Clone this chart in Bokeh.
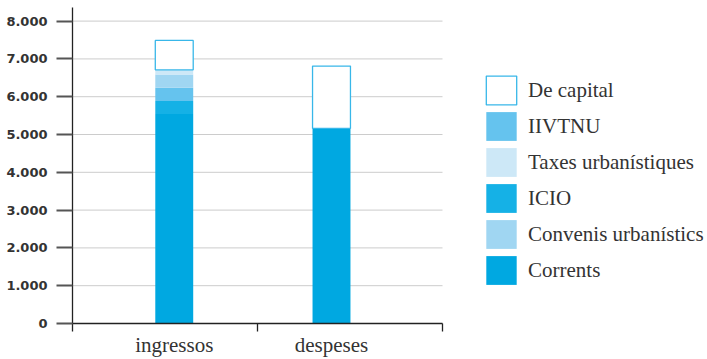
from bokeh.plotting import figure
from bokeh.models import (ColumnDataSource, Range1d, FixedTicker, Legend,
                          LegendItem)
from bokeh.embed import file_html
from bokeh.resources import INLINE

# --- data (thousands of euros) ---
categories = ["ingressos", "despeses"]
corrents = [5540, 5160]
icio = [345, 0]
iivtnu = [350, 0]
convenis = [355, 0]
taxes = [120, 0]
de_capital = [780, 1650]

y_ticks = [0, 1000, 2000, 3000, 4000, 5000, 6000, 7000, 8000]
y_tick_labels = ["0", "1.000", "2.000", "3.000", "4.000",
                 "5.000", "6.000", "7.000", "8.000"]

# series names, stacked from the bottom up
series_keys = ["corrents", "icio", "iivtnu", "convenis", "taxes", "de_capital"]
series_names = ["Corrents", "ICIO", "IIVTNU", "Convenis urbanístics",
                "Taxes urbanístiques", "De capital"]
legend_order = ["De capital", "IIVTNU", "Taxes urbanístiques", "ICIO",
                "Convenis urbanístics", "Corrents"]

# --- styling / layout ---
fill_colors = ["#00A8E1", "#15B1E6", "#65C3EE", "#A0D6F2", "#CDE8F7", "#FFFFFF"]
line_colors = [None, None, None, None, None, "#38B7E9"]
line_widths = [0, 0, 0, 0, 0, 1.3]
slot_shift = [0.05, -0.10]      # bars sit slightly off the slot centres
bar_width = 0.205
serif = "Liberation Serif"
serif_size = "21px"

W, H = 707, 359
LEFT, BOTTOM, TOP = 72, 36, 7
AXIS_PX = 370                    # drawn length of the category axis
n = len(categories)
x_end = n * (W - LEFT) / AXIS_PX  # frame runs on under the legend

centers = [i + 0.5 + s for i, s in enumerate(slot_shift)]
source = ColumnDataSource(dict(
    x=centers,
    corrents=corrents, icio=icio, iivtnu=iivtnu,
    convenis=convenis, taxes=taxes, de_capital=de_capital,
))

p = figure(width=W, height=H, output_backend="svg", toolbar_location=None,
           x_range=Range1d(0, x_end), y_range=Range1d(0, 8360),
           min_border_left=LEFT, min_border_right=0,
           min_border_top=TOP, min_border_bottom=BOTTOM)
p.outline_line_color = None
p.background_fill_color = "white"
p.border_fill_color = "white"
p.grid.visible = False

# horizontal guide lines, only across the category axis
p.segment(x0=0, x1=n, y0=y_ticks, y1=y_ticks,
          line_color="#CCCCCC", line_width=1, level="underlay")

renderers = p.vbar_stack(series_keys, x="x", width=bar_width, source=source,
                         fill_color=fill_colors, line_color=line_colors,
                         line_width=line_widths)
by_name = dict(zip(series_names, renderers))

# y axis
ya = p.yaxis[0]
ya.ticker = FixedTicker(ticks=y_ticks)
ya.major_label_overrides = {t: s for t, s in zip(y_ticks, y_tick_labels)}
ya.major_tick_in = 0
ya.major_tick_out = 16
ya.major_tick_line_color = "#555555"
ya.major_tick_line_width = 2
ya.minor_tick_line_color = None
ya.axis_line_color = "#222222"
ya.axis_line_width = 1.3
ya.major_label_standoff = 9
ya.major_label_text_font = "DejaVu Sans"
ya.major_label_text_font_style = "bold"
ya.major_label_text_font_size = "13px"
ya.major_label_text_color = "#333333"

# x axis: labels under the bars, ticks on the slot boundaries
xa = p.xaxis[0]
xa.bounds = (0, n)
xa.ticker = FixedTicker(ticks=centers, minor_ticks=list(range(n + 1)))
xa.major_label_overrides = {c: s for c, s in zip(centers, categories)}
xa.major_tick_in = 0
xa.major_tick_out = 0
xa.minor_tick_in = 0
xa.minor_tick_out = 8
xa.minor_tick_line_color = "#222222"
xa.minor_tick_line_width = 1.3
xa.axis_line_color = "#222222"
xa.axis_line_width = 1.3
xa.major_label_standoff = 1
xa.major_label_text_font = serif
xa.major_label_text_font_size = serif_size
xa.major_label_text_color = "#333333"

legend = Legend(
    items=[LegendItem(label=s, renderers=[by_name[s]]) for s in legend_order],
    location=(410, 35),
    orientation="vertical",
    border_line_color=None,
    background_fill_alpha=0,
    padding=0, margin=0, spacing=0,
    glyph_width=38, glyph_height=36, label_height=36,
    label_standoff=8,
    label_text_font=serif,
    label_text_font_size=serif_size,
    label_text_color="#333333",
)
p.add_layout(legend, "center")

open("out.html", "w").write(file_html(p, INLINE))
